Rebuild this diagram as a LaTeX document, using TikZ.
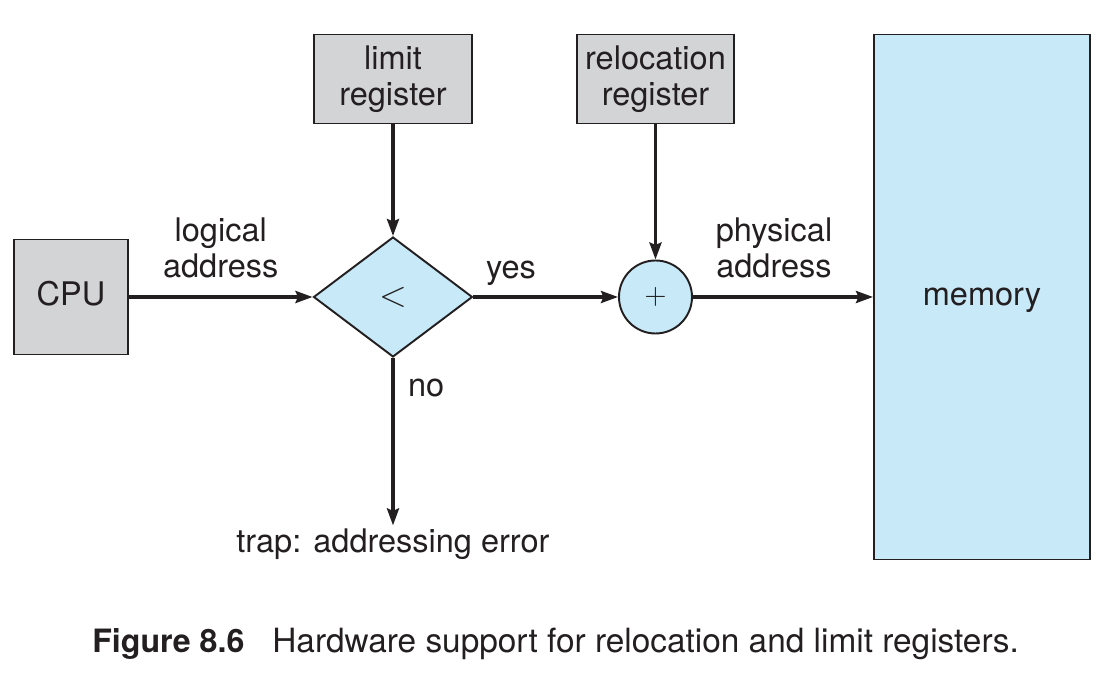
\documentclass[tikz,border=0pt]{standalone}
\usepackage{fontspec}
\setmainfont{TeX Gyre Heros}
\usetikzlibrary{arrows.meta,shapes.geometric}
\definecolor{boxgray}{RGB}{211,212,214}
\definecolor{boxblue}{RGB}{199,233,248}
\definecolor{ink}{RGB}{35,31,32}

\begin{document}
\begin{tikzpicture}[font=\fontsize{18.5}{20.5}\selectfont, text=ink]
    \useasboundingbox (0,0) rectangle (22.24,13.68);

    \begin{scope}[every node/.style={draw=ink,line width=1.1pt,align=center,inner sep=0pt}]
      \node[fill=boxgray,minimum width=2.28cm,minimum height=2.3cm,text height=0.95em,text depth=0pt] (cpu) at (1.42,7.74) {CPU};
      \node[fill=boxgray,minimum width=3.16cm,minimum height=1.78cm] (limit) at (7.86,12.1) {limit\\register};
      \node[fill=boxgray,minimum width=3.14cm,minimum height=1.78cm] (reloc) at (13.11,12.1) {relocation\\register};
      \node[fill=boxblue,diamond,minimum width=3.18cm,minimum height=2.4cm] (cmp) at (7.86,7.74) {\fontsize{21}{21}\selectfont$<$};
      \node[fill=boxblue,circle,minimum size=1.46cm] (add) at (13.11,7.74) {$+$};
      \node[fill=boxblue,minimum width=4.32cm,minimum height=10.5cm,text height=0.95em,text depth=0pt] (mem) at (19.64,7.74) {memory};
    \end{scope}

    \node[anchor=base,inner sep=2pt] (trap) at (7.86,2.62) {trap: addressing error};

    \begin{scope}[>={Stealth[length=0.34cm,width=0.24cm,inset=0.05cm]},
                every node/.style={align=center},
        every edge/.style={draw=ink,line width=1.9pt}]
      \path [->] (cpu) edge node[above=0.22cm] {logical\\address} (cmp);
      \path [->] (limit) edge (cmp);
      \path [->] (reloc) edge (add);
      \path [->] (cmp) edge node[pos=0.26,above=0.08cm] {yes} (add);
      \path [->] (add) edge node[pos=0.45,above=0.22cm] {physical\\address} (mem);
      \path [->] (cmp) edge node[pos=0.18,right=0.15cm] {no} (trap.north);
    \end{scope}

    \node[anchor=base west,inner sep=0pt,font=\fontsize{18.3}{20}\selectfont\bfseries] (fig) at (1.84,0.62) {Figure 8.6};
    \node[anchor=base west,inner sep=0pt,font=\fontsize{19}{20}\selectfont] (caption) at (5.44,0.62) {Hardware support for relocation and limit registers.};
  \end{tikzpicture}
\end{document}
